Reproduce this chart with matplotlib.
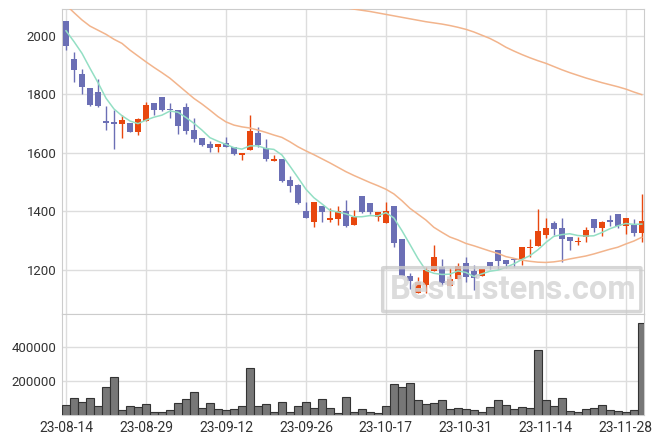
import numpy as np
import matplotlib.pyplot as plt
from matplotlib.patches import FancyBboxPatch

# daily OHLC (23-08-14 .. 23-11-30)
opens = [2050, 1919, 1869, 1820, 1808, 1709, 1704, 1698, 1701, 1672,
         1710, 1769, 1790, 1751, 1746, 1757, 1678, 1652, 1630, 1621,
         1633, 1621, 1593, 1610, 1667, 1616, 1573, 1579, 1507, 1490,
         1401, 1365, 1419, 1371, 1375, 1401, 1355, 1453, 1429, 1380,
         1362, 1419, 1306, 1180, 1123, 1149, 1197, 1211, 1146, 1169,
         1223, 1197, 1181, 1226, 1268, 1234, 1237, 1238, 1275, 1282,
         1320, 1361, 1342, 1313, 1295, 1312, 1374, 1342, 1371, 1391,
         1351, 1354, 1327]
highs = [2050, 1945, 1885, 1820, 1851, 1760, 1746, 1729, 1703, 1720,
         1775, 1772, 1790, 1769, 1746, 1769, 1718, 1652, 1641, 1630,
         1655, 1621, 1599, 1729, 1687, 1646, 1593, 1579, 1521, 1494,
         1431, 1432, 1419, 1411, 1419, 1439, 1405, 1453, 1429, 1399,
         1431, 1419, 1306, 1190, 1177, 1209, 1284, 1239, 1208, 1223,
         1246, 1217, 1203, 1226, 1268, 1234, 1241, 1279, 1305, 1408,
         1377, 1368, 1377, 1313, 1314, 1346, 1374, 1368, 1388, 1391,
         1377, 1373, 1460]
lows = [1951, 1842, 1800, 1760, 1757, 1678, 1613, 1652, 1670, 1661,
        1708, 1730, 1744, 1718, 1663, 1663, 1636, 1624, 1602, 1602,
        1621, 1594, 1576, 1610, 1620, 1573, 1573, 1500, 1467, 1424,
        1377, 1348, 1365, 1365, 1353, 1348, 1355, 1396, 1391, 1369,
        1362, 1278, 1180, 1134, 1123, 1121, 1197, 1149, 1146, 1169,
        1160, 1132, 1181, 1203, 1203, 1206, 1211, 1217, 1244, 1282,
        1308, 1320, 1226, 1268, 1285, 1297, 1329, 1317, 1351, 1342,
        1322, 1316, 1295]
closes = [1966, 1883, 1826, 1763, 1760, 1703, 1699, 1712, 1672, 1716,
          1763, 1746, 1746, 1746, 1692, 1675, 1648, 1627, 1618, 1630,
          1621, 1596, 1599, 1675, 1627, 1578, 1579, 1505, 1488, 1430,
          1379, 1432, 1399, 1378, 1403, 1350, 1381, 1399, 1397, 1399,
          1403, 1294, 1180, 1164, 1158, 1200, 1245, 1157, 1169, 1214,
          1177, 1172, 1203, 1215, 1232, 1221, 1233, 1279, 1279, 1333,
          1345, 1339, 1307, 1298, 1300, 1337, 1342, 1363, 1363, 1350,
          1377, 1327, 1368]
volumes = [63000, 102000, 79000, 102000, 58000, 165000, 225000, 33000, 56000, 50000,
           69000, 21000, 21000, 33000, 73000, 96000, 136000, 44000, 73000, 40000,
           33000, 40000, 56000, 275000, 56000, 67000, 21000, 83000, 21000, 56000,
           79000, 44000, 96000, 44000, 15000, 108000, 21000, 38000, 21000, 15000,
           56000, 183000, 165000, 188000, 90000, 67000, 73000, 90000, 38000, 44000,
           38000, 33000, 21000, 50000, 90000, 61000, 38000, 50000, 44000, 379000,
           90000, 56000, 102000, 27000, 21000, 38000, 44000, 61000, 33000, 27000,
           21000, 33000, 535000]

# moving averages as drawn on the chart
ma5 = [2017, 1980, 1940, 1889, 1840, 1787, 1750, 1727, 1709, 1700,
       1712, 1722, 1729, 1743, 1739, 1721, 1701, 1678, 1652, 1640,
       1629, 1618, 1613, 1624, 1624, 1615, 1612, 1593, 1555, 1516,
       1476, 1447, 1426, 1404, 1398, 1392, 1382, 1382, 1386, 1385,
       1396, 1378, 1335, 1288, 1240, 1199, 1189, 1185, 1186, 1197,
       1192, 1178, 1187, 1196, 1200, 1209, 1221, 1236, 1249, 1269,
       1294, 1315, 1321, 1324, 1318, 1316, 1317, 1328, 1341, 1351,
       1359, 1356, 1357]
ma20 = [2105, 2079, 2054, 2033, 2019, 2005, 1988, 1974, 1951, 1931,
        1911, 1892, 1874, 1855, 1832, 1809, 1786, 1767, 1746, 1724,
        1706, 1695, 1689, 1685, 1678, 1670, 1661, 1653, 1638, 1621,
        1607, 1594, 1580, 1566, 1551, 1536, 1523, 1511, 1499, 1488,
        1476, 1460, 1437, 1411, 1391, 1371, 1346, 1329, 1313, 1303,
        1291, 1283, 1274, 1265, 1257, 1246, 1240, 1234, 1230, 1227,
        1226, 1228, 1232, 1238, 1243, 1248, 1255, 1263, 1271, 1278,
        1289, 1299, 1312]
ma60 = [np.nan] * 35 + [
        2096, 2091, 2087, 2083, 2078, 2073, 2068, 2063, 2058, 2053,
        2048, 2044, 2040, 2035, 2029, 2022, 2013, 2002, 1991, 1977,
        1961, 1948, 1936, 1925, 1915, 1906, 1895, 1884, 1874, 1865,
        1856, 1848, 1840, 1833, 1826, 1818, 1808, 1799]
tick_labels = ['23-08-14', '23-08-29', '23-09-12', '23-09-26',
               '23-10-17', '23-10-31', '23-11-14', '23-11-28']

up_col = '#e8470e'
down_col = '#6b6fb5'
grid_col = '#dddddd'

plt.rcParams['font.family'] = ['Roboto', 'DejaVu Sans']

fig = plt.figure(figsize=(6.63, 4.44), dpi=100)
ax = fig.add_axes([0.094, 0.2928, 0.877, 0.686])
axv = fig.add_axes([0.094, 0.0653, 0.877, 0.2275], sharex=ax)

x = np.arange(len(closes))
o = np.array(opens)
c = np.array(closes)
cols = [up_col if cc >= oo else down_col for oo, cc in zip(o, c)]
body_low = np.minimum(o, c)
body_h = np.maximum(np.abs(c - o), 3)

ax.vlines(x, lows, highs, colors=cols, linewidth=1, zorder=2)
ax.bar(x, body_h, bottom=body_low, width=0.72, color=cols, zorder=3)

ax.plot(x, ma60, color='#f2b48c', lw=1.1, zorder=4)
ax.plot(x, ma20, color='#f2b48c', lw=1.1, zorder=4)
ax.plot(x, ma5, color='#93dfc4', lw=1.1, zorder=4)

axv.bar(x, volumes, width=1.0, color='#777777', edgecolor='#333333',
        linewidth=0.8, zorder=3)

ticks = np.arange(0, len(x), 10)
for a in (ax, axv):
    a.set_xlim(-0.46, 72.25)
    a.set_xticks(ticks)
    a.grid(True, color=grid_col, linewidth=1, zorder=0)
    a.set_axisbelow(True)
    a.tick_params(length=0, labelsize=9.5, labelcolor='#333333', pad=4)
    for s in a.spines.values():
        s.set_color('#cccccc')

ax.set_ylim(1050, 2090)
ax.set_yticks([1200, 1400, 1600, 1800, 2000])
ax.tick_params(labelbottom=False)

axv.set_ylim(6000, 587000)
axv.set_yticks([200000, 400000])
axv.set_xticklabels(tick_labels)
axv.tick_params(axis='x', labelsize=10)

# watermark
box = FancyBboxPatch((0.553, 0.01), 0.44, 0.14, boxstyle='round,pad=0.002',
                     transform=ax.transAxes, fill=False, edgecolor='#cccccc',
                     linewidth=2.5, alpha=0.8, zorder=6)
ax.add_patch(box)
ax.text(0.775, 0.079, 'BestListens.com', transform=ax.transAxes,
        fontsize=23.5, fontweight='bold', color='#d6d6d6', alpha=0.85,
        ha='center', va='center', zorder=6)

fig.savefig('out.png', dpi=100)
